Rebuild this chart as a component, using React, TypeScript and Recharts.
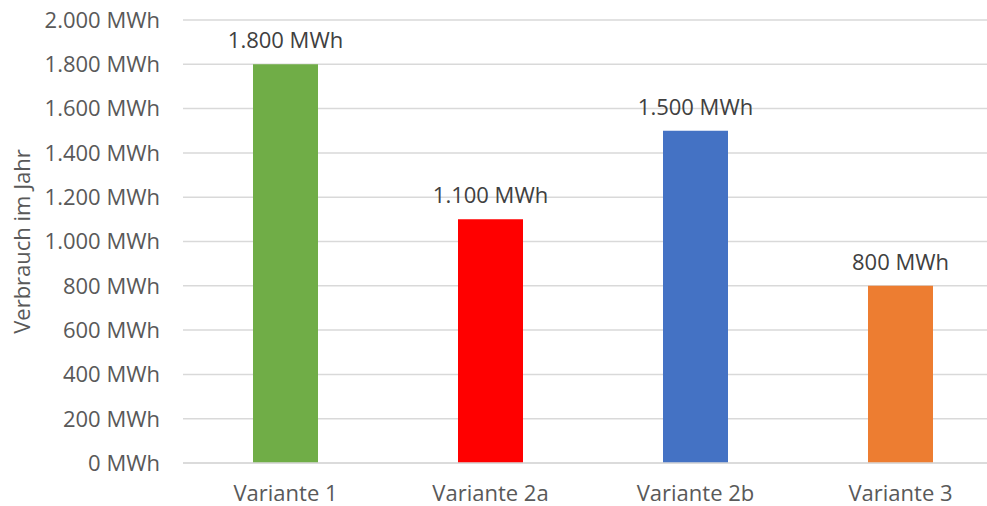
import React from 'react';
import { BarChart, Bar, XAxis, YAxis, CartesianGrid, Cell, LabelList } from 'recharts';

const categories = ['Variante 1', 'Variante 2a', 'Variante 2b', 'Variante 3'];
const values = [1800, 1100, 1500, 800];
const colors = ['#70AD47', '#FF0000', '#4472C4', '#ED7D31'];
const yTicks = [0, 200, 400, 600, 800, 1000, 1200, 1400, 1600, 1800, 2000];

const data = categories.map((name, i) => ({ name, value: values[i] }));

const fmt = (v: number) => {
  const s = String(Math.round(v));
  return s.replace(/\B(?=(\d{3})+(?!\d))/g, '.') + ' MWh';
};

const FONT = '"Open Sans", sans-serif';
const FS = 22;

const renderValueLabel = (props: any) => {
  const { x, y, width, value } = props;
  return (
    <text
      x={Number(x) + Number(width) / 2}
      y={Number(y) - 16}
      textAnchor="middle"
      fill="#404040"
      fontSize={FS}
      fontFamily={FONT}
    >
      {fmt(Number(value))}
    </text>
  );
};

export default function App() {
  return (
    <div
      style={{
        position: 'absolute',
        top: 0,
        left: 0,
        width: 987,
        height: 506,
        overflow: 'hidden',
        background: '#fff',
      }}
    >
      <BarChart
        width={1003}
        height={506}
        data={data}
        margin={{ top: 20, right: 0, bottom: 0, left: 0 }}
        style={{ fontFamily: FONT }}
      >
        <CartesianGrid vertical={false} stroke="#d9d9d9" strokeWidth={1.5} />
        <XAxis
          dataKey="name"
          height={43}
          axisLine={{ stroke: '#d9d9d9', strokeWidth: 1.5 }}
          tickLine={false}
          tickSize={0}
          tickMargin={22}
          tick={{ fill: '#595959', fontSize: FS, fontFamily: FONT }}
          interval={0}
        />
        <YAxis
          width={183}
          domain={[0, 2000]}
          ticks={yTicks}
          axisLine={false}
          tickLine={false}
          tickSize={0}
          tickMargin={23}
          tickFormatter={fmt}
          tick={{ fill: '#595959', fontSize: FS, fontFamily: FONT }}
          label={{
            value: 'Verbrauch im Jahr',
            angle: -90,
            position: 'center',
            dx: -69.5,
            style: { fill: '#595959', fontSize: FS, fontFamily: FONT },
          }}
        />
        <Bar dataKey="value" barSize={65} isAnimationActive={false}>
          {data.map((d, i) => (
            <Cell key={d.name} fill={colors[i]} />
          ))}
          <LabelList dataKey="value" content={renderValueLabel} />
        </Bar>
      </BarChart>
    </div>
  );
}
